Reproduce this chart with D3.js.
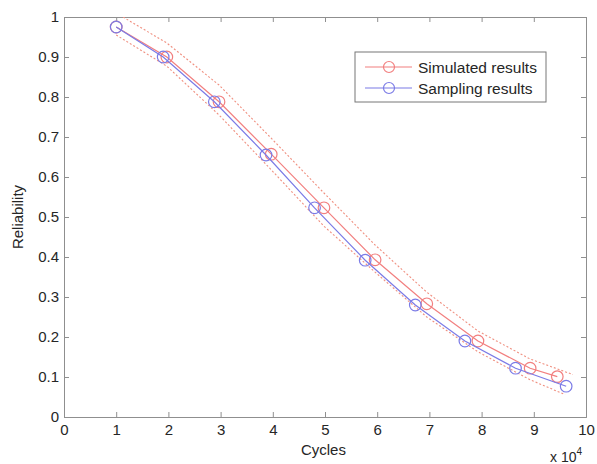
<!DOCTYPE html>
<html>
<head>
<meta charset="utf-8">
<script src="https://cdn.jsdelivr.net/npm/d3@7"></script>
<style>
    body { margin: 0; background: #fff; }
    text { font-family: "Liberation Sans", Arial, sans-serif; fill: #262626; }
</style>
</head>
<body>
<svg id="chart" width="597" height="464"></svg>
<script>
// cycles in units of 1e4
var simX = [1.0, 1.97, 2.97, 3.97, 4.98, 5.96, 6.95, 7.93, 8.93, 9.45]
var simY = [0.975, 0.9, 0.788, 0.657, 0.523, 0.393, 0.283, 0.19, 0.122, 0.101]
var sampX = [1.0, 1.9, 2.88, 3.87, 4.8, 5.77, 6.73, 7.68, 8.65, 9.62]
var sampY = [0.975, 0.9, 0.788, 0.655, 0.523, 0.392, 0.28, 0.19, 0.122, 0.077]
var upperX = [1.0, 1.97, 2.97, 3.97, 4.98, 5.96, 6.95, 7.93, 8.93, 9.75]
var upperY = [1.01, 0.935, 0.83, 0.697, 0.56, 0.43, 0.312, 0.215, 0.145, 0.106]
var lowerX = [1.0, 1.97, 2.97, 3.97, 4.98, 5.96, 6.95, 7.93, 8.93, 9.6]
var lowerY = [0.955, 0.877, 0.755, 0.618, 0.477, 0.362, 0.25, 0.163, 0.093, 0.056]
var xTicks = [0, 1, 2, 3, 4, 5, 6, 7, 8, 9, 10]
var yTicks = [0, 0.1, 0.2, 0.3, 0.4, 0.5, 0.6, 0.7, 0.8, 0.9, 1]
var seriesNames = ["Simulated results", "Sampling results"]

var margin = { top: 17, right: 11, bottom: 47, left: 64 },
    width = 597 - margin.left - margin.right,
    height = 464 - margin.top - margin.bottom

var redC = "#f27f7f", blueC = "#7b7be6", bandC = "#f09080", axisC = "#8f8f8f"

var x = d3.scaleLinear().domain([0, 10]).range([0, width])
var y = d3.scaleLinear().domain([0, 1]).range([height, 0])

var svg = d3.select("#chart")
    .append("g")
    .attr("transform", "translate(" + margin.left + "," + margin.top + ")")

svg.append("clipPath").attr("id", "clip")
    .append("rect").attr("width", width).attr("height", height)

// axes, ticks pointing inwards on all sides
svg.append("g")
    .attr("transform", "translate(0," + height + ")")
    .call(d3.axisBottom(x).tickValues(xTicks).tickSize(-5).tickPadding(7).tickFormat(d3.format("d")))
svg.append("g")
    .call(d3.axisTop(x).tickValues(xTicks).tickSize(-5).tickFormat(""))
svg.append("g")
    .call(d3.axisLeft(y).tickValues(yTicks).tickSize(-5).tickPadding(5).tickFormat(function (d) { return d === 0 || d === 1 ? d : d.toFixed(1) }))
svg.append("g")
    .attr("transform", "translate(" + width + ",0)")
    .call(d3.axisRight(y).tickValues(yTicks).tickSize(-5).tickFormat(""))

svg.selectAll(".domain, .tick line").attr("stroke", axisC)
svg.selectAll(".tick text").style("font-size", "15px").attr("fill", "#262626")

var line = d3.line()
    .x(function (d) { return x(d[0]) })
    .y(function (d) { return y(d[1]) })

function zip(a, b) { return a.map(function (v, i) { return [v, b[i]] }) }

var plot = svg.append("g").attr("clip-path", "url(#clip)")

plot.append("path").datum(zip(upperX, upperY))
    .attr("d", line).attr("fill", "none").attr("stroke", bandC)
    .attr("stroke-width", 1.1).attr("stroke-dasharray", "2,2")
plot.append("path").datum(zip(lowerX, lowerY))
    .attr("d", line).attr("fill", "none").attr("stroke", bandC)
    .attr("stroke-width", 1.1).attr("stroke-dasharray", "2,2")

var series = [
    { name: seriesNames[0], pts: zip(simX, simY), color: redC },
    { name: seriesNames[1], pts: zip(sampX, sampY), color: blueC }
]

series.forEach(function (s) {
    plot.append("path").datum(s.pts)
        .attr("d", line).attr("fill", "none").attr("stroke", s.color).attr("stroke-width", 1.2)
    plot.selectAll(null).data(s.pts).enter().append("circle")
        .attr("cx", function (d) { return x(d[0]) })
        .attr("cy", function (d) { return y(d[1]) })
        .attr("r", 5.8)
        .attr("fill", "none").attr("stroke", s.color).attr("stroke-width", 1.2)
})

// legend
var lg = svg.append("g").attr("transform", "translate(291,35)")
lg.append("rect").attr("width", 191).attr("height", 50)
    .attr("fill", "#fff").attr("stroke", "#777").attr("stroke-width", 1)
series.forEach(function (s, i) {
    var yy = 15 + i * 21
    lg.append("line").attr("x1", 10).attr("x2", 57).attr("y1", yy).attr("y2", yy)
        .attr("stroke", s.color).attr("stroke-width", 1.2)
    lg.append("circle").attr("cx", 34).attr("cy", yy).attr("r", 5.5)
        .attr("fill", "none").attr("stroke", s.color).attr("stroke-width", 1.2)
    lg.append("text").attr("x", 63).attr("y", yy + 5.5).style("font-size", "15.5px").text(s.name)
})

// axis labels
svg.append("text")
    .attr("x", x(4.97)).attr("y", height + 38)
    .attr("text-anchor", "middle").style("font-size", "15px").text("Cycles")
svg.append("text")
    .attr("transform", "translate(-41," + (height / 2) + ") rotate(-90)")
    .attr("text-anchor", "middle").style("font-size", "15px").text("Reliability")
var mult = svg.append("text")
    .attr("x", width - 36).attr("y", height + 45).style("font-size", "14px")
mult.append("tspan").text("x 10")
mult.append("tspan").attr("dy", -7).style("font-size", "10px").text("4")
</script>
</body>
</html>
